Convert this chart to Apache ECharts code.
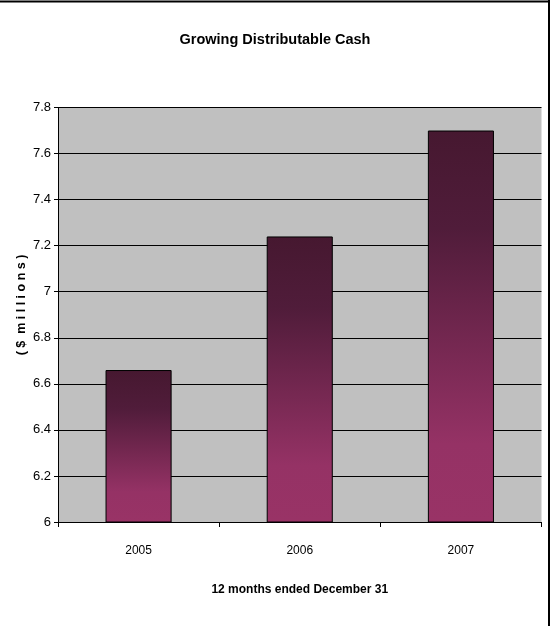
<!DOCTYPE html>
<html>
<head>
<meta charset="utf-8">
<script src="https://cdn.jsdelivr.net/npm/echarts@6/dist/echarts.min.js"></script>
<style>
  html, body { margin: 0; padding: 0; background: #ffffff; }
  #chart { width: 550px; height: 626px; }
</style>
</head>
<body>
<div id="chart"></div>
<script>
// Distributable cash by year, $ millions
const years = ['2005', '2006', '2007'];
const cashMillions = [6.66, 7.24, 7.70];
const yTicks = { min: 6, max: 7.8, step: 0.2 };
const yTitle = '( $  m i l l i o n s )';

const FONT = '"Liberation Sans", Arial, sans-serif';

const barFill = new echarts.graphic.LinearGradient(0, 0, 0, 1, [
  { offset: 0, color: '#461830' },
  { offset: 0.25, color: '#501c3a' },
  { offset: 0.8, color: '#953265' },
  { offset: 1, color: '#993366' }
]);

const chart = echarts.init(document.getElementById('chart'), null, { renderer: 'canvas' });

chart.setOption({
  animation: false,
  backgroundColor: '#ffffff',
  title: {
    text: 'Growing Distributable Cash',
    left: 'center',
    top: 27,
    textStyle: { fontFamily: FONT, fontSize: 14.5, fontWeight: 'bold', color: '#000' }
  },
  grid: {
    left: 58, right: 8.5, top: 107.5, bottom: 104,
    show: true, backgroundColor: '#c0c0c0', borderWidth: 0
  },
  xAxis: {
    type: 'category',
    data: years,
    name: '12 months ended December 31',
    nameLocation: 'middle',
    nameGap: 62,
    nameTextStyle: { fontFamily: FONT, fontSize: 12, fontWeight: 'bold', color: '#000' },
    axisLine: { show: true, lineStyle: { color: '#000', width: 1 } },
    axisTick: { show: true, length: 5, alignWithLabel: false, lineStyle: { color: '#000' } },
    axisLabel: { fontFamily: FONT, fontSize: 12, color: '#000', margin: 23 },
    splitLine: { show: false }
  },
  yAxis: {
    type: 'value',
    min: yTicks.min,
    max: yTicks.max,
    interval: yTicks.step,
    axisLine: { show: true, lineStyle: { color: '#000', width: 1 } },
    axisTick: { show: true, length: 4, lineStyle: { color: '#000' } },
    axisLabel: {
      fontFamily: FONT, fontSize: 13, color: '#000', margin: 7,
      formatter: v => String(parseFloat(v.toFixed(1)))
    },
    splitLine: { show: true, lineStyle: { color: '#000', width: 1 } }
  },
  series: [{
    type: 'bar',
    data: cashMillions,
    barWidth: '41%',
    itemStyle: { color: barFill, borderColor: '#000', borderWidth: 1 }
  }],
  graphic: [
    {
      type: 'text', x: 22, y: 305, rotation: Math.PI / 2,
      style: {
        text: yTitle, fontFamily: FONT, fontSize: 12.5, fontWeight: 'bold',
        fill: '#000', align: 'center', verticalAlign: 'middle'
      }
    },
    { type: 'line', shape: { x1: 0, y1: 1.5, x2: 550, y2: 1.5 }, style: { stroke: '#000', lineWidth: 2 } },
    { type: 'line', shape: { x1: 549, y1: 0, x2: 549, y2: 626 }, style: { stroke: '#000', lineWidth: 2 } }
  ]
});
</script>
</body>
</html>
